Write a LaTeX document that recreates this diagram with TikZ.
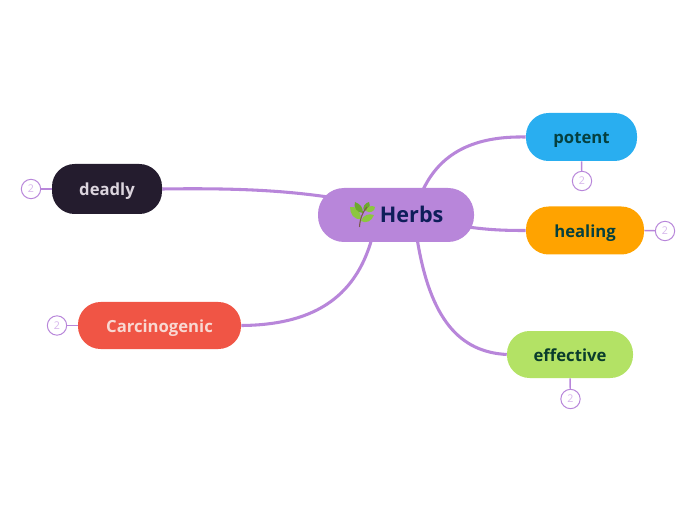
\documentclass[tikz,border=0pt]{standalone}
\usepackage{fontspec}
\setmainfont{Open Sans}
\usetikzlibrary{backgrounds}
\definecolor{link}{HTML}{B886DA}
\definecolor{ctext}{HTML}{D6B6EC}
\definecolor{herbfill}{HTML}{B886DA}
\definecolor{herbtext}{HTML}{0E1E5A}
\definecolor{potentfill}{HTML}{29AEF0}
\definecolor{healfill}{HTML}{FFA300}
\definecolor{deadfill}{HTML}{241C2E}
\definecolor{carcfill}{HTML}{F05545}
\definecolor{efffill}{HTML}{B3E265}
\definecolor{tealtext}{HTML}{05403F}
\definecolor{greentext}{HTML}{0A3D2C}
\definecolor{deadtext}{HTML}{DCD5DE}
\definecolor{carctext}{HTML}{F8D8D2}
\definecolor{leaf}{HTML}{8CC63F}
\definecolor{leafdark}{HTML}{6DAA2C}
\definecolor{stem}{HTML}{7A5A4A}
\tikzset{
  x=0.75pt,y=-0.75pt,
  topic/.style={rounded corners=17pt,inner sep=0pt,text height=11.2pt,text depth=1pt,font=\bfseries\fontsize{12.5pt}{14pt}\selectfont},
  count/.style={circle,draw=link,fill=white,line width=0.75pt,minimum size=14.5pt,inner sep=0pt,text=ctext,font=\fontsize{8pt}{9pt}\selectfont},
  mainlink/.style={draw=link,line width=2.3pt},
  sublink/.style={draw=link,line width=1.1pt},
}
\begin{document}
\begin{tikzpicture}
\useasboundingbox (0,0) rectangle (696,520);
\node[topic,fill=herbfill,minimum width=117pt,minimum height=40.5pt,rounded corners=19.5pt,text=herbtext,text height=12pt,text depth=1pt,font=\bfseries\fontsize{16.2pt}{18pt}\selectfont] (herbs) at (396,215) {\hspace{23.5pt}Herbs};
\node[topic,fill=potentfill,minimum width=83.25pt,minimum height=36pt,text=tealtext] (potent) at (581.5,137) {potent};
\node[topic,fill=healfill,minimum width=88.5pt,minimum height=36pt,text=tealtext] (healing) at (585,230.5) {healing};
\node[topic,fill=deadfill,minimum width=82.5pt,minimum height=37.5pt,text=deadtext] (deadly) at (107,189) {deadly};
\node[topic,fill=carcfill,minimum width=122.25pt,minimum height=35.25pt,text=carctext] (carc) at (159.5,325.5) {Carcinogenic};
\node[topic,fill=efffill,minimum width=94.5pt,minimum height=35.25pt,text=greentext] (effective) at (570,354.5) {effective};
\node[count] (c1) at (582,181) {2};
\node[count] (c2) at (665,231) {2};
\node[count] (c3) at (31,189) {2};
\node[count] (c4) at (57,325.5) {2};
\node[count] (c5) at (570.5,399) {2};
\coordinate (hp) at (422,192);
\coordinate (hh) at (468,227);
\coordinate (hd) at (328,197);
\coordinate (hc) at (372,238);
\coordinate (he) at (417,238);
\begin{scope}[on background layer]
\draw[mainlink] (hp) .. controls (440,152) and (475,136) .. (potent.west);
\draw[mainlink] (hh) .. controls (490,230) and (505,230.5) .. (healing.west);
\draw[mainlink] (deadly.east) .. controls (230,188) and (280,190) .. (hd);
\draw[mainlink] (carc.east) .. controls (310,325) and (355,300) .. (hc);
\draw[mainlink] (he) .. controls (430,320) and (460,352) .. (effective.west);
\draw[sublink] (potent.south) -- (c1);
\draw[sublink] (healing.east) -- (c2);
\draw[sublink] (deadly.west) -- (c3);
\draw[sublink] (carc.west) -- (c4);
\draw[sublink] (effective.south) -- (c5);
\end{scope}
% herb emoji: leaves and stem
\fill[leaf] (361,219) .. controls (360,210) and (356,206) .. (350,207) .. controls (350,214) and (354,220) .. (361,219) -- cycle;
\fill[leafdark] (363,213) .. controls (363,207) and (360,204) .. (355,202) .. controls (353,207) and (357,213) .. (363,213) -- cycle;
\fill[leafdark] (364,211) .. controls (362,207) and (365,203) .. (369,202) .. controls (371,206) and (369,211) .. (364,211) -- cycle;
\fill[leaf] (366,211) .. controls (367,206) and (372,205) .. (375,207) .. controls (375,211) and (370,214) .. (366,211) -- cycle;
\fill[leaf] (361,221) .. controls (363,215) and (369,213) .. (374,215) .. controls (372,221) and (366,224) .. (361,221) -- cycle;
\draw[stem,line width=0.8pt] (359.5,227) .. controls (360,219) and (362,213) .. (367,207);
\end{tikzpicture}
\end{document}
